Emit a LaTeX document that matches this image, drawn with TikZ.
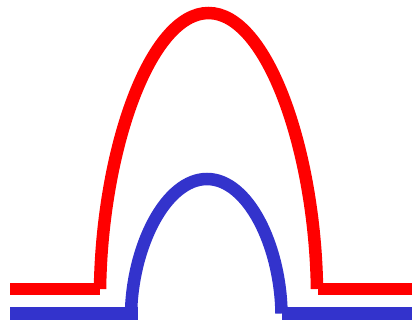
\documentclass[tikz,border=0pt]{standalone}
\usepackage{tikz}
\definecolor{ArchRed}{RGB}{255, 0, 0}
\definecolor{ArchBlue}{RGB}{51, 51, 204}

\begin{document}
\begin{tikzpicture}[x=1pt, y=-1pt, wire/.style={line width=12.5pt, line cap=butt}]
    \useasboundingbox (0,0) rectangle (412,324);

    % Outer arch
    \draw[wire, ArchRed] (10,289) -- (100,289);
    \draw[wire, ArchRed] (100,289) .. controls (102,150) and (150,13) .. (208.5,13)
        .. controls (267,13) and (315,150) .. (317,289);
    \draw[wire, ArchRed] (318,289) -- (412,289);

    % Inner arch
    \draw[wire, ArchBlue] (10,313.5) -- (138,313.5);
    \draw[wire, ArchBlue] (131,313.5) .. controls (132.4,245.5) and (166,179) .. (207,179)
        .. controls (248,179) and (280.5,245.5) .. (281.5,313.5);
    \draw[wire, ArchBlue] (282,313.5) -- (412,313.5);
  \end{tikzpicture}
\end{document}
